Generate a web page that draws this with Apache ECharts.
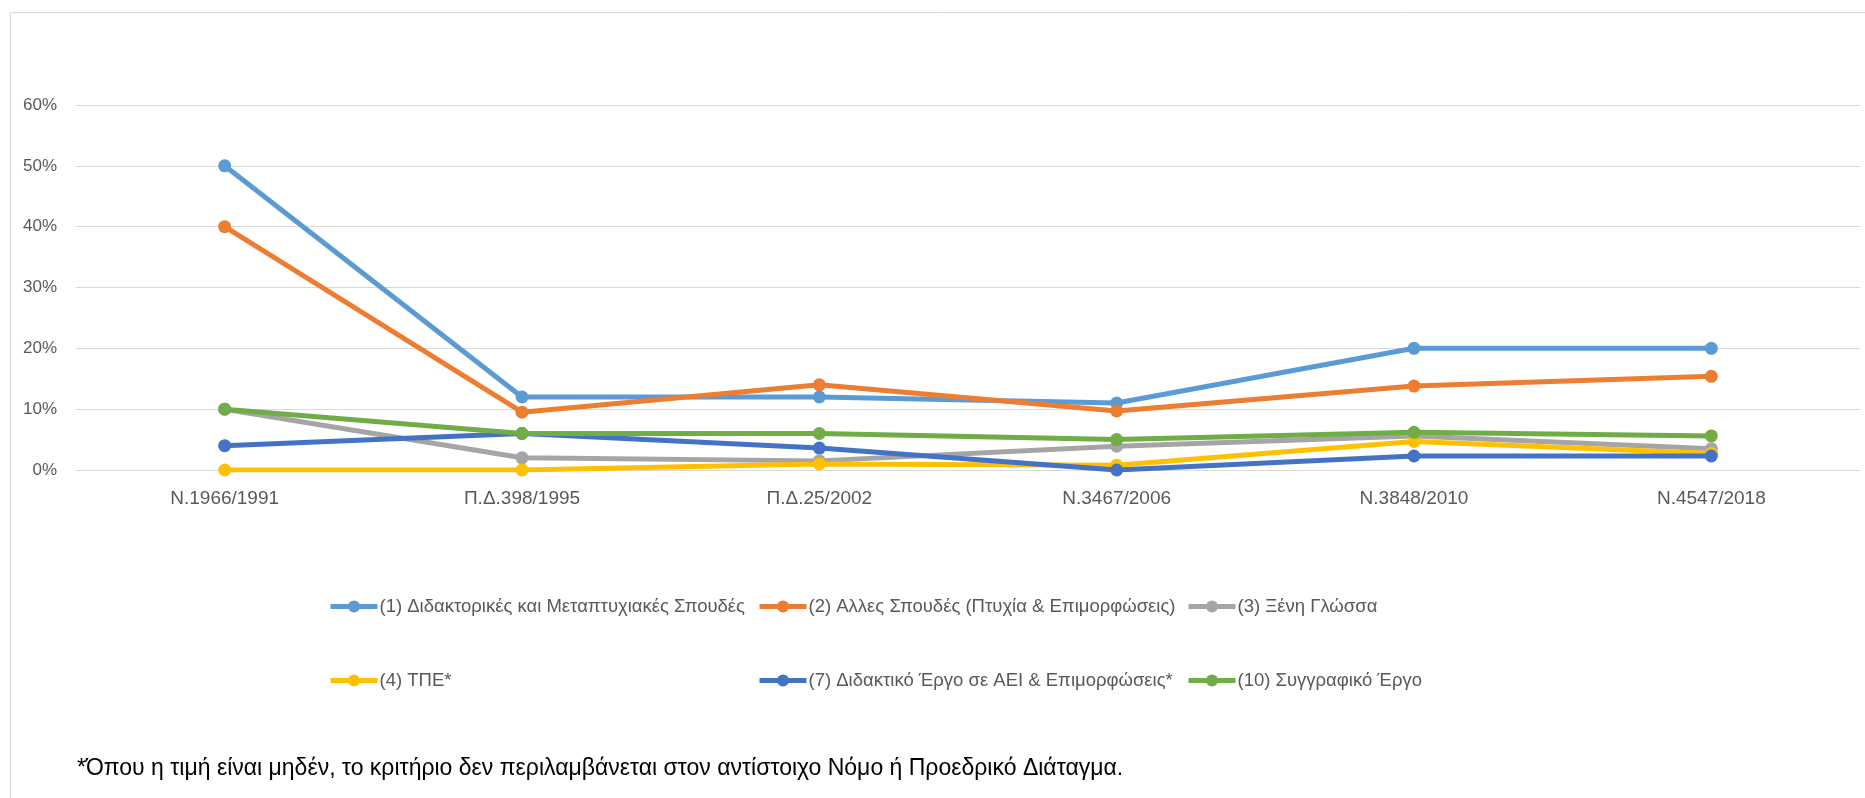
<!DOCTYPE html>
<html>
<head>
<meta charset="utf-8">
<script src="https://cdn.jsdelivr.net/npm/echarts@6/dist/echarts.min.js"></script>
<style>
html,body{margin:0;padding:0;background:#fff;}
#chart{width:1865px;height:798px;}
</style>
</head>
<body>
<div id="chart"></div>
<script>
const categories = ['Ν.1966/1991','Π.Δ.398/1995','Π.Δ.25/2002','Ν.3467/2006','Ν.3848/2010','Ν.4547/2018'];
const seriesNames = [
  '(1) Διδακτορικές και Μεταπτυχιακές Σπουδές',
  '(2) Αλλες Σπουδές (Πτυχία & Επιμορφώσεις)',
  '(3) Ξένη Γλώσσα',
  '(4) ΤΠΕ*',
  '(7) Διδακτικό Έργο σε ΑΕΙ & Επιμορφώσεις*',
  '(10) Συγγραφικό Έργο'
];
const s1 = [50, 12, 12, 11, 20, 20];
const s2 = [40, 9.5, 14, 9.7, 13.8, 15.4];
const s3 = [10, 2, 1.5, 3.9, 5.6, 3.5];
const s4 = [0, 0, 1, 0.8, 4.7, 2.7];
const s7 = [4, 6, 3.6, 0, 2.3, 2.3];
const s10 = [10, 6, 6, 5, 6.2, 5.6];
const yTicks = [0, 10, 20, 30, 40, 50, 60];
const footnote = '*Όπου η τιμή είναι μηδέν, το κριτήριο δεν περιλαμβάνεται στον αντίστοιχο Νόμο ή Προεδρικό Διάταγμα.';

const colors = ['#5B9BD5','#ED7D31','#A5A5A5','#FFC000','#4472C4','#70AD47'];
const values = [s1, s2, s3, s4, s7, s10];
const FONT = "'Liberation Sans', Arial, sans-serif";

const chart = echarts.init(document.getElementById('chart'), null, {renderer:'canvas'});

const legendPos = [
  {left:328, top:597},{left:757, top:597},{left:1186, top:597},
  {left:328, top:671},{left:757, top:671},{left:1186, top:671}
];

const option = {
  animation: false,
  backgroundColor: '#ffffff',
  color: colors,
  grid: {left:76, right:5, top:105, bottom:328, containLabel:false},
  xAxis: {
    type: 'category',
    data: categories,
    boundaryGap: true,
    axisLine: {show:false},
    axisTick: {show:false},
    axisLabel: {color:'#595959', fontSize:19, fontFamily:FONT, margin:19}
  },
  yAxis: {
    type: 'value',
    min: yTicks[0],
    max: yTicks[yTicks.length-1],
    interval: 10,
    axisLine: {show:false},
    axisTick: {show:false},
    splitLine: {lineStyle:{color:'#D9D9D9', width:1}},
    axisLabel: {color:'#595959', fontSize:17, fontFamily:FONT, margin:19, formatter:'{value}%'}
  },
  legend: seriesNames.map((n, i) => ({
    data: [n],
    left: legendPos[i].left,
    top: legendPos[i].top,
    padding: 0,
    itemWidth: 47,
    itemHeight: 15,
    itemGap: 4,
    selectedMode: false,
    lineStyle: {width: 5},
    textStyle: {color:'#595959', fontSize:18.5, fontFamily:FONT, padding:[0,0,0,-3]}
  })),
  series: seriesNames.map((n, i) => ({
    name: n,
    type: 'line',
    data: values[i],
    symbol: 'circle',
    symbolSize: 13,
    lineStyle: {width:5, color: colors[i]},
    itemStyle: {color: colors[i]},
    z: 2 + i
  })),
  graphic: [
    {type:'line', shape:{x1:10.5, y1:12.5, x2:1865, y2:12.5}, style:{stroke:'#D9D9D9', lineWidth:1}},
    {type:'line', shape:{x1:10.5, y1:12.5, x2:10.5, y2:798}, style:{stroke:'#D9D9D9', lineWidth:1}},
    {type:'text', left:77, top:757, style:{text:footnote, fill:'#000000', font:'23px ' + FONT}}
  ]
};
chart.setOption(option);
</script>
</body>
</html>
